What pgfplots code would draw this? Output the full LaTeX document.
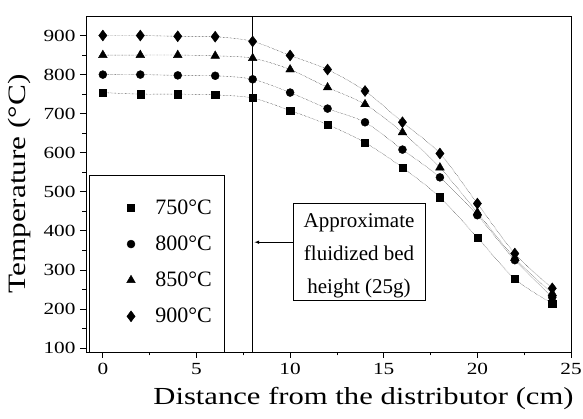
\documentclass[border=0pt]{standalone}
\usepackage{fontspec}
\setmainfont{Liberation Serif}
\newfontfamily\widefont[FakeStretch=1.25]{Liberation Serif}
\usepackage{pgfplots}
\pgfplotsset{compat=1.18}
\begin{document}
\begin{tikzpicture}
\begin{axis}[
  scale only axis,
  width=485pt, height=336pt,
  xmin=-0.9, xmax=25, ymin=90, ymax=950,
  xtick={0,5,10,15,20,25}, ytick={100,200,...,900},
  minor x tick num=1, minor y tick num=1,
  tick align=outside, xtick pos=bottom, ytick pos=left,
  major tick length=6pt, minor tick length=3.5pt,
  /pgf/number format/assume math mode=true,
  tick label style={font=\widefont\fontsize{17}{20}\selectfont},
  xticklabel style={yshift=-2pt},
  yticklabel style={xshift=-1pt},
  xlabel={Distance from the distributor (cm)},
  ylabel={Temperature (°C)},
  xlabel style={font=\widefont\fontsize{24.5}{28}\selectfont, yshift=-5pt, xshift=35pt},
  ylabel style={font=\widefont\fontsize{25}{30}\selectfont, yshift=6pt},
  axis line style={line width=0.9pt},
  every tick/.style={black, line width=0.8pt},
  legend style={draw=none, fill=none, at={(axis cs:3.6,320)}, anchor=center,
    font=\fontsize{22}{24}\selectfont, row sep=16pt,
    legend cell align=left},
  legend image code/.code={\draw[#1,draw=none] plot coordinates {(0.2cm,0cm)};},
]
% fitted dotted curves
\addplot[black, densely dotted, thin, smooth, forget plot] coordinates {
(0,754)(2,750)(4,750)(6,748)(8,740)(10,708)(12,672)(14,626)(16,562)(18,486)(20,383)(22,277)(24,214)};
\addplot[black, densely dotted, thin, smooth, forget plot] coordinates {
(0,800)(2,800)(4,798)(6,797)(8,788)(10,754)(12,713)(14,678)(16,608)(18,537)(20,440)(22,325)(24,230)};
\addplot[black, densely dotted, thin, smooth, forget plot] coordinates {
(0,850)(2,850)(4,850)(6,848)(8,842)(10,813)(12,767)(14,724)(16,652)(18,562)(20,447)(22,330)(24,240)};
\addplot[black, densely dotted, thin, smooth, forget plot] coordinates {
(0,900)(2,900)(4,898)(6,897)(8,885)(10,849)(12,813)(14,758)(16,678)(18,598)(20,470)(22,342)(24,253)};
% markers
\addplot[only marks, mark=square*, mark size=3.6pt, black] coordinates {
(0,754)(2,750)(4,750)(6,748)(8,740)(10,708)(12,672)(14,626)(16,562)(18,486)(20,383)(22,277)(24,214)};
\addlegendentry{\hspace{18pt}750°C}
\addplot[only marks, mark=*, mark size=4pt, black] coordinates {
(0,800)(2,800)(4,798)(6,797)(8,788)(10,754)(12,713)(14,678)(16,608)(18,537)(20,440)(22,325)(24,230)};
\addlegendentry{\hspace{18pt}800°C}
\addplot[only marks, mark=triangle*, mark size=5pt, black] coordinates {
(0,850)(2,850)(4,850)(6,848)(8,842)(10,813)(12,767)(14,724)(16,652)(18,562)(20,447)(22,330)(24,240)};
\addlegendentry{\hspace{18pt}850°C}
\addplot[only marks, mark=diamond*, mark size=5.5pt, black] coordinates {
(0,900)(2,900)(4,898)(6,897)(8,885)(10,849)(12,813)(14,758)(16,678)(18,598)(20,470)(22,342)(24,253)};
\addlegendentry{\hspace{18pt}900°C}
% bed height line
\draw[line width=0.9pt] (axis cs:8,90) -- (axis cs:8,950);
% legend frame
\draw[line width=0.8pt] (axis cs:-0.7,90) rectangle (axis cs:6.47,542);
% annotation box
\draw[line width=0.8pt] (axis cs:10.16,222) rectangle (axis cs:17.2,470);
\node[align=center, font=\fontsize{21}{33}\selectfont] at (axis cs:13.68,337) {Approximate\\fluidized bed\\height (25g)};
\draw[-latex, line width=0.6pt] (axis cs:10.16,371) -- (axis cs:8.1,371);
\end{axis}
\pgfresetboundingbox
\path ([shift={(-86pt,-67pt)}]current axis.south west) rectangle ([shift={(12pt,16pt)}]current axis.north east);
\end{tikzpicture}
\end{document}
